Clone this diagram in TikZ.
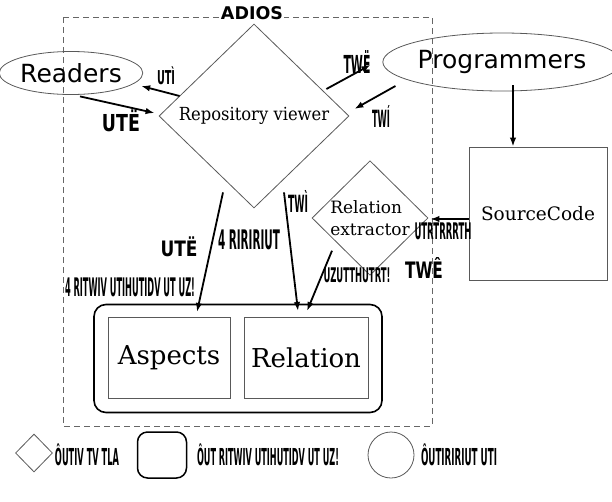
\documentclass[tikz,border=0pt]{standalone}
\usepackage{fontspec}
\usetikzlibrary{shapes.geometric,arrows.meta,calc}
\newfontfamily\djsans{DejaVu Sans}
\newfontfamily\djserif{DejaVu Serif}
\newcommand\glb[3]{\resizebox*{#1pt}{#2pt}{\djsans\bfseries #3}}
\begin{document}
\begin{tikzpicture}[x=1pt,y=-1pt,
  gline/.style={draw=black!65, line width=0.8pt},
  arr/.style={-{Latex[length=9pt,width=6.5pt]}, line width=1.8pt},
  lbl/.style={inner sep=0pt},
  boxtxt/.style={font=\djserif\fontsize{26}{26}\selectfont}
]
\useasboundingbox (0,0) rectangle (612,501);
% frame
\draw[black!60, line width=0.8pt, dash pattern=on 6pt off 4pt] (63,17) rectangle (432,426);
\node[fill=white, inner sep=1pt, font=\djsans\bfseries\fontsize{17.5}{17.5}\selectfont] (adios) at (252,13.5) {ADIOS};
% nodes
\node[ellipse, gline, minimum width=142pt, minimum height=43pt, inner sep=0pt,
      font=\djsans\fontsize{25}{25}\selectfont] (readers) at (71,73) {Readers};
\node[ellipse, gline, minimum width=208pt, minimum height=58pt, inner sep=0pt,
      font=\djsans\fontsize{25}{25}\selectfont] (prog) at (502,62) {Programmers};
\node[diamond, gline, minimum width=190pt, minimum height=184pt, inner sep=0pt, aspect=1.03,
      font=\djserif\fontsize{18}{18}\selectfont] (repo) at (254,116) {\scalebox{0.91}[1]{Repository viewer}};
\node[diamond, gline, minimum width=116pt, minimum height=114pt, inner sep=0pt, align=left,
      font=\djserif\fontsize{17}{22}\selectfont] (relx) at (370,218) {Relation\\extractor};
\node[rectangle, gline, minimum width=138pt, minimum height=133pt,
      font=\djserif\fontsize{18.5}{18.5}\selectfont] (src) at (538,213.5) {SourceCode};
\node[draw, line width=1.6pt, rounded corners=12pt, minimum width=288pt, minimum height=108pt] (store) at (238,358.5) {};
\node[draw=black!65, line width=1pt, minimum width=122pt, minimum height=81pt, boxtxt] (asp) at (169,358) {Aspects};
\node[draw=black!65, line width=1pt, minimum width=124pt, minimum height=81pt, boxtxt] (relb) at (306,358) {Relation};
% connectors
\draw[arr] ($(repo.west)+(21,-20)$) -- ($(readers.east)+(-2,13)$);
\draw[arr] ($(readers.south)+(9,1.5)$) -- ($(repo.west)+(-4,-3)$);
\draw[arr] ($(repo.east)+(-23,-27)$) -- ($(prog.west)+(-12,3)$);
\draw[arr] ($(prog.west)+(13,24)$) -- ($(repo.east)+(5,-7)$);
\draw[arr] ($(prog.south)+(11,-6)$) -- ($(src.north)+(-25,0)$);
\draw[arr] ($(src.west)+(0,5.5)$) -- ($(relx.east)+(2,1)$);
\draw[arr] ($(repo.south)+(-31,-16)$) -- ($(asp.north)+(28,-5)$);
\draw[arr] ($(repo.south)+(30,-16)$) -- ($(relb.north)+(-8,-6)$);
\draw[arr] ($(relx.south)+(-38,-25)$) -- ($(relb.north)+(1,-6)$);
% labels
\node[lbl] (l1) at (166,76) {\glb{18}{18}{UTÌ}};
\node[lbl] (l2) at (121,121) {\glb{38}{22}{UTË}};
\node[lbl] (l3) at (357,62) {\glb{27}{23}{TWË}};
\node[lbl] (l4) at (381,116) {\glb{18}{22}{TWÍ}};
\node[lbl] (l5) at (298,201) {\glb{20}{22}{TWÌ}};
\node[lbl] (l6) at (179,247) {\glb{37}{20}{UTË}};
\node[lbl] (l7) at (249,240) {\glb{62}{20}{4 RIRIRIUT}};
\node[lbl] (l8) at (130,287) {\glb{130}{19}{4 RITWIV UTIHUTIDV UT UZ!}};
\node[lbl] (l9) at (443,231) {\glb{57}{17}{UTRTRRRTH}};
\node[lbl] (l10) at (357,275) {\glb{67}{15}{UZUTTHUTRT!}};
\node[lbl] (l11) at (424,268) {\glb{38}{21}{TWÊ}};
% legend
\node[diamond, gline, minimum width=37pt, minimum height=38pt, inner sep=0pt] (lgd) at (34,453) {};
\node[draw, line width=1.5pt, rounded corners=10pt, minimum width=49pt, minimum height=46pt] (lgr) at (162,455) {};
\node[circle, gline, minimum size=46pt, inner sep=0pt] (lgc) at (391,455) {};
\node[lbl] (lt1) at (87,455) {\glb{64}{22}{ÔUTIV TV TLA}};
\node[lbl] (lt2) at (268,455) {\glb{142}{22}{ÔUT RITWIV UTIHUTIDV UT UZ!}};
\node[lbl] (lt3) at (459,455) {\glb{76}{22}{ÔUTIRIRIUT UTI}};
\end{tikzpicture}
\end{document}
